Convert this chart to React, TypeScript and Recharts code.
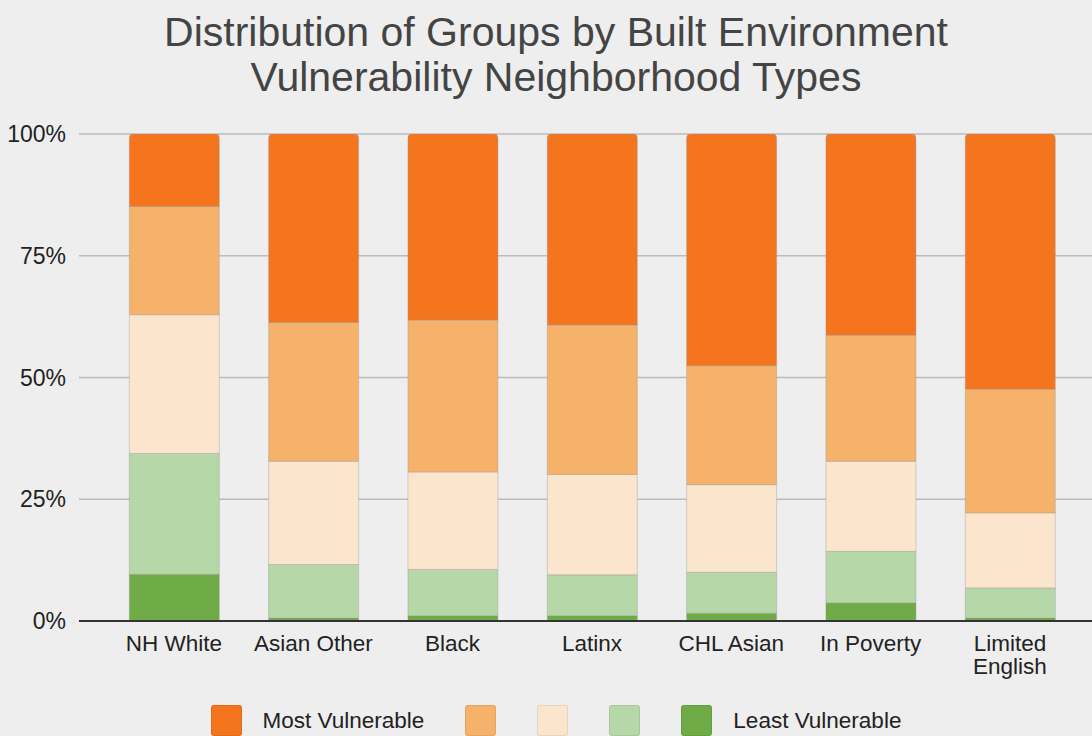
import React from 'react';
import { BarChart, Bar, XAxis, YAxis, CartesianGrid, Legend } from 'recharts';

const categories = ['NH White', 'Asian Other', 'Black', 'Latinx', 'CHL Asian', 'In Poverty', 'Limited English'];
// stacked bottom -> top
const leastVulnerable = [9.6, 0.6, 1.1, 1.1, 1.6, 3.7, 0.6];
const level2 = [24.8, 11.0, 9.5, 8.4, 8.4, 10.6, 6.2];
const level3 = [28.5, 21.2, 20.0, 20.6, 18.0, 18.5, 15.4];
const level4 = [22.2, 28.5, 31.2, 30.7, 24.4, 25.9, 25.4];
const mostVulnerable = [14.9, 38.7, 38.2, 39.2, 47.6, 41.3, 52.4];
const yTicks = [0, 25, 50, 75, 100];

const seriesKeys = ['least', 'l2', 'l3', 'l4', 'most'];
const seriesLabels = ['Least Vulnerable', '', '', '', 'Most Vulnerable'];
const seriesColors = ['#6fab46', '#b6d7a8', '#fce5cd', '#f6b26b', '#f4751d'];

const data = categories.map((c, i) => ({
  name: c,
  least: leastVulnerable[i],
  l2: level2[i],
  l3: level3[i],
  l4: level4[i],
  most: mostVulnerable[i],
}));

const FONT = '"Liberation Sans", Arial, Helvetica, sans-serif';

const XTick = (props: any) => {
  const { x, y, payload } = props;
  const label: string = String(payload.value);
  let lines: string[] = [label];
  if (label.length > 12 && label.indexOf(' ') > 0) {
    const k = label.lastIndexOf(' ');
    lines = [label.slice(0, k), label.slice(k + 1)];
  }
  return (
    <text x={x} y={y} textAnchor="middle" fontSize={22.5} fill="#222" style={{ fontFamily: FONT }}>
      {lines.map((ln, i) => (
        <tspan key={i} x={x} dy={i === 0 ? 16.3 : 23}>
          {ln}
        </tspan>
      ))}
    </text>
  );
};

const LegendContent = (props: any) => {
  const payload = [...(props.payload || [])].sort(
    (a: any, b: any) => seriesKeys.indexOf(b.dataKey) - seriesKeys.indexOf(a.dataKey)
  );
  return (
    <div style={{ display: 'flex', justifyContent: 'center', alignItems: 'center', height: 31, gap: 41, fontFamily: FONT }}>
      {payload.map((p: any) => {
        const idx = seriesKeys.indexOf(p.dataKey);
        const label = seriesLabels[idx];
        return (
          <div key={p.dataKey} style={{ display: 'flex', alignItems: 'center', height: 31 }}>
            <div
              style={{
                width: 31,
                height: 31,
                background: seriesColors[idx],
                borderRadius: 3,
                boxSizing: 'border-box',
                border: '1px solid rgba(0,0,0,0.08)',
              }}
            />
            {label ? (
              <span style={{ marginLeft: 21, fontSize: 22.5, color: '#222', lineHeight: '31px', whiteSpace: 'nowrap' }}>{label}</span>
            ) : null}
          </div>
        );
      })}
    </div>
  );
};

export default function App() {
  return (
    <div
      style={{
        position: 'absolute',
        top: 0,
        left: 0,
        width: 1092,
        height: 736,
        overflow: 'hidden',
        background: '#eeeeee',
        fontFamily: FONT,
      }}
    >
      <div
        style={{
          position: 'absolute',
          top: 9.5,
          left: 10,
          width: 1092,
          textAlign: 'center',
          fontSize: 41,
          lineHeight: '45px',
          color: '#444',
          fontFamily: FONT,
        }}
      >
        Distribution of Groups by Built Environment
        <br />
        Vulnerability Neighborhood Types
      </div>
      <BarChart
        width={1092}
        height={736}
        data={data}
        margin={{ top: 134, right: 0, bottom: 24, left: 0 }}
        style={{ position: 'absolute', top: 0, left: 0 }}
      >
        <CartesianGrid vertical={false} stroke="#bbbbbb" strokeWidth={1.6} />
        <XAxis
          dataKey="name"
          tick={<XTick />}
          tickLine={false}
          axisLine={{ stroke: '#333', strokeWidth: 2 }}
          interval={0}
          height={60}
          tickMargin={8}
          padding={{ left: 25.3, right: 12.4 }}
        />
        <YAxis
          domain={[0, 100]}
          ticks={yTicks}
          allowDataOverflow
          tickFormatter={(v: number) => `${v}%`}
          axisLine={false}
          tickLine={false}
          tickMargin={7}
          width={79}
          tick={{ fill: '#222', fontSize: 23, fontFamily: FONT }}
        />
        <Legend
          verticalAlign="bottom"
          content={<LegendContent />}
          wrapperStyle={{ top: 705, left: 10, width: 1092, bottom: 'auto' }}
        />
        {seriesKeys.map((k, i) => (
          <Bar
            key={k}
            dataKey={k}
            name={seriesLabels[i] || k}
            stackId="a"
            fill={seriesColors[i]}
            barSize={90}
            stroke="#999"
            strokeOpacity={0.4}
            strokeWidth={1}
            radius={i === seriesKeys.length - 1 ? [4, 4, 0, 0] : 0}
            isAnimationActive={false}
          />
        ))}
      </BarChart>
    </div>
  );
}
